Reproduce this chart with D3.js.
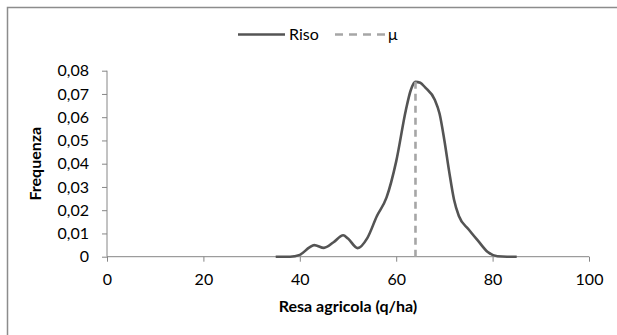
<!DOCTYPE html>
<html><head><meta charset="utf-8">
<script src="https://cdn.jsdelivr.net/npm/d3@7"></script>
<style>
html,body{margin:0;padding:0;background:#fff;overflow:hidden}
svg{display:block}
text{font-family:Lato,"Open Sans",sans-serif;fill:#000}
</style></head><body>
<script>
const yieldX = [35,38,40,42,43,45,47,49,50,52,54,56,58,60,62,63,64,65,66,68,69,70,71,72,73,75,77,79,81,83,85];
const freqRiso = [0,0,0.0008,0.0040,0.0050,0.0038,0.0062,0.0092,0.0078,0.0037,0.0080,0.0175,0.0255,0.0410,0.0630,0.0715,0.0752,0.0748,0.0728,0.0675,0.0615,0.0500,0.0365,0.0245,0.0175,0.0118,0.0068,0.0020,0.0002,0,0];
const mu = 64.0;
const xTicks = [0,20,40,60,80,100];
const yTicks = [0,0.01,0.02,0.03,0.04,0.05,0.06,0.07,0.08];
const seriesNames = ["Riso","μ"];

const W=617,H=335;
const svg=d3.select("body").append("svg").attr("width",W).attr("height",H);
svg.append("rect").attr("x",7.5).attr("y",7.5).attr("width",700).attr("height",400)
  .attr("fill","none").attr("stroke","#8c8c8c").attr("stroke-width",1.5);

const x=d3.scaleLinear().domain([0,100]).range([107,589]);
const y=d3.scaleLinear().domain([0,0.08]).range([256.7,70.7]);
const axisCol="#868686";
const fmt=d=>d===0?"0":d3.format(".2f")(d).replace(".",",");

const gy=svg.append("g").attr("transform",`translate(${x(0)},0)`)
  .call(d3.axisLeft(y).tickValues(yTicks).tickFormat(fmt).tickSize(5).tickPadding(13));
const gx=svg.append("g").attr("transform",`translate(0,${y(0)})`)
  .call(d3.axisBottom(x).tickValues(xTicks).tickSize(5).tickPadding(12));
[gx,gy].forEach(g=>{
  g.select(".domain").attr("stroke",axisCol).attr("stroke-width",1);
  g.selectAll(".tick line").attr("stroke",axisCol);
  g.selectAll("text").style("font-family","Lato,sans-serif").style("font-size","16px").attr("fill","#000");
});
gy.select(".domain").attr("d",`M0,${y(0.08)}V${y(0)}`);
gx.select(".domain").attr("d",`M${x(0)},0H${x(100)}`);

svg.append("text").attr("transform",`translate(41,${(y(0)+y(0.08))/2}) rotate(-90)`)
  .attr("text-anchor","middle").style("font-size","16px").style("font-weight","bold").text("Frequenza");
svg.append("text").attr("x",(x(0)+x(100))/2).attr("y",312).attr("text-anchor","middle")
  .style("font-size","16px").style("font-weight","bold").text("Resa agricola (q/ha)");

const data=yieldX.map((v,i)=>[v,freqRiso[i]]);
svg.append("path").datum(data)
  .attr("d",d3.line().x(d=>x(d[0])).y(d=>y(d[1])).curve(d3.curveMonotoneX))
  .attr("fill","none").attr("stroke","#545454").attr("stroke-width",2.6).attr("stroke-linejoin","round");

svg.append("line").attr("x1",x(mu)).attr("x2",x(mu)).attr("y1",y(0.0752)).attr("y2",y(0))
  .attr("stroke","#a6a6a6").attr("stroke-width",2.6).attr("stroke-dasharray","7,5");

// legend
const lg=svg.append("g");
lg.append("line").attr("x1",238).attr("x2",285).attr("y1",34.5).attr("y2",34.5)
  .attr("stroke","#545454").attr("stroke-width",2.6);
lg.append("text").attr("x",289).attr("y",40).style("font-size","16px").text(seriesNames[0]);
lg.append("line").attr("x1",335).attr("x2",387).attr("y1",34.5).attr("y2",34.5)
  .attr("stroke","#a6a6a6").attr("stroke-width",2.6).attr("stroke-dasharray","8,6");
lg.append("text").attr("x",388).attr("y",40).style("font-size","16px").text(seriesNames[1]);
</script></body></html>
